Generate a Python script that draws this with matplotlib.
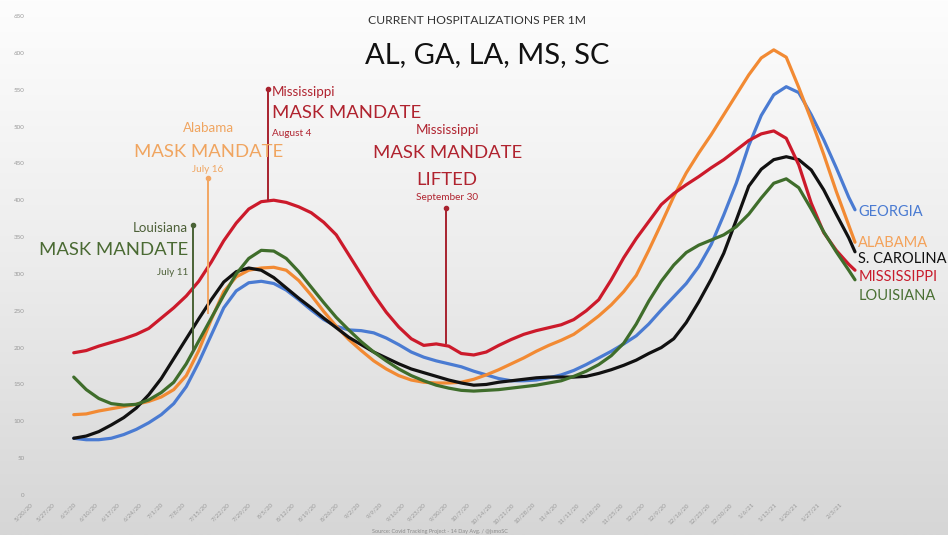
import matplotlib
matplotlib.use("Agg")
import matplotlib.pyplot as plt
import numpy as np

plt.rcParams['font.family'] = ['Lato', 'DejaVu Sans']

# days since 5/20/20, one reading every 4 days (14-day avg)
days = list(range(14, 263, 4)) + [264]

mississippi = [193, 196, 202, 207, 212, 218, 226, 240, 254, 270,
               290, 316, 345, 369, 388, 398, 400, 397, 391, 383,
               370, 353, 326, 299, 272, 248, 228, 212, 203, 205,
               202, 192, 190, 194, 203, 211, 218, 223, 227, 231,
               238, 250, 265, 292, 322, 348, 371, 394, 409, 421,
               432, 444, 455, 468, 481, 490, 494, 484, 448, 396,
               356, 332, 313, 305]
alabama = [109, 110, 114, 117, 120, 123, 127, 133, 143, 162,
           196, 238, 276, 296, 305, 308, 309, 305, 291, 271,
           249, 229, 211, 196, 182, 171, 162, 156, 153, 152,
           152, 153, 157, 163, 170, 178, 186, 195, 203, 210,
           218, 230, 243, 258, 276, 298, 332, 368, 405, 437,
           464, 489, 516, 543, 570, 593, 604, 594, 553, 509,
           462, 412, 366, 343]
georgia = [77, 75, 75, 77, 82, 89, 98, 109, 124, 147,
           180, 217, 254, 277, 288, 290, 287, 278, 265, 251,
           238, 229, 224, 223, 220, 213, 204, 194, 187, 182,
           178, 174, 168, 163, 158, 155, 155, 156, 159, 163,
           169, 177, 186, 195, 205, 216, 232, 251, 269, 287,
           310, 340, 380, 423, 474, 515, 543, 554, 546, 516,
           482, 444, 404, 387]
south_carolina = [77, 80, 86, 95, 105, 118, 136, 158, 185, 212,
                  239, 265, 289, 303, 308, 305, 295, 281, 267, 254,
                  240, 227, 214, 204, 194, 186, 178, 171, 166, 161,
                  156, 152, 149, 150, 153, 155, 157, 159, 160, 160,
                  160, 161, 165, 170, 176, 183, 192, 200, 212, 234,
                  262, 293, 328, 373, 419, 442, 455, 459, 455, 441,
                  414, 381, 349, 330]
louisiana = [160, 143, 131, 124, 122, 123, 129, 139, 153, 178,
             209, 240, 271, 300, 321, 332, 331, 321, 303, 282,
             261, 241, 224, 208, 194, 182, 171, 162, 155, 149,
             145, 142, 141, 142, 143, 145, 147, 149, 152, 155,
             161, 168, 177, 189, 206, 232, 263, 290, 312, 329,
             339, 346, 353, 364, 381, 403, 423, 429, 417, 388,
             357, 330, 305, 292]

tick_days = list(range(0, 260, 7))
tick_labels = ['5/20/20', '5/27/20', '6/3/20', '6/10/20', '6/17/20', '6/24/20',
               '7/1/20', '7/8/20', '7/15/20', '7/22/20', '7/29/20', '8/5/20',
               '8/12/20', '8/19/20', '8/26/20', '9/2/20', '9/9/20', '9/16/20',
               '9/23/20', '9/30/20', '10/7/20', '10/14/20', '10/21/20', '10/28/20',
               '11/4/20', '11/11/20', '11/18/20', '11/25/20', '12/2/20', '12/9/20',
               '12/16/20', '12/23/20', '12/30/20', '1/6/21', '1/13/21', '1/20/21',
               '1/27/21', '2/3/21']

fig = plt.figure(figsize=(9.48, 5.35), dpi=100)

# grey gradient background
bg = fig.add_axes([0, 0, 1, 1], zorder=-1)
grad = np.linspace(0, 1, 256).reshape(-1, 1)
bg.imshow(grad, aspect='auto', cmap=plt.matplotlib.colors.LinearSegmentedColormap.from_list(
    'bg', ['#fdfdfd', '#ececec', '#d6d6d6']), extent=[0, 1, 0, 1])
bg.axis('off')

ax = fig.add_axes([30 / 948, 40 / 535, 840 / 948, 480 / 535])
ax.patch.set_alpha(0)
ax.set_xlim(0, 268.8)
ax.set_ylim(0, 651.3)

series = [
    (georgia, '#4a7bd2', 'GEORGIA', '#4a7bd2'),
    (alabama, '#f28a33', 'ALABAMA', '#f4a25a'),
    (south_carolina, '#111111', 'S. CAROLINA', '#111111'),
    (mississippi, '#cc1a2b', 'MISSISSIPPI', '#c81c2c'),
    (louisiana, '#3f6d2b', 'LOUISIANA', '#4a7033'),
]
label_y = [384, 342, 320, 296, 270]
for (vals, col, name, tcol), ly in zip(series, label_y):
    ax.plot(days, vals, color=col, lw=2.3, solid_capstyle='round', solid_joinstyle='round')
    ax.text(265, ly, name, color=tcol, fontsize=10.5, va='center', ha='left', clip_on=False)

# annotations: vertical marker lines
def mandate_line(day, v0, v1, col):
    ax.plot([day, day], [v0, v1], color=col, lw=1.4)
    ax.plot([day], [v1], marker='o', ms=3, color=col)

mandate_line(52, 194, 366, '#4a6336')
mandate_line(57, 247, 430, '#f3a663')
mandate_line(76, 400, 551, '#a8222e')
mandate_line(133, 206, 389, '#a8222e')

big = 13.3
small = 9.6
tiny = 7.2
# Louisiana
ax.text(50.5, 362, 'Louisiana', color='#4d6038', fontsize=small, ha='right', va='center')
ax.text(50.5, 332, 'MASK MANDATE', color='#4a6a33', fontsize=big, ha='right', va='center')
ax.text(50.5, 302, 'July 11', color='#4d6038', fontsize=tiny, ha='right', va='center')
# Alabama
ax.text(57, 498, 'Alabama', color='#f0a560', fontsize=small, ha='center', va='center')
ax.text(57, 465, 'MASK MANDATE', color='#f0a560', fontsize=big, ha='center', va='center')
ax.text(57, 441, 'July 16', color='#f0a560', fontsize=tiny, ha='center', va='center')
# Mississippi August
ax.text(77.5, 547, 'Mississippi', color='#b0232f', fontsize=small, ha='left', va='center')
ax.text(77.5, 518, 'MASK MANDATE', color='#b0232f', fontsize=big, ha='left', va='center')
ax.text(77.5, 490, 'August 4', color='#b0232f', fontsize=tiny, ha='left', va='center')
# Mississippi September
ax.text(133.5, 495, 'Mississippi', color='#b0232f', fontsize=small, ha='center', va='center')
ax.text(133.5, 464, 'MASK MANDATE', color='#b0232f', fontsize=big, ha='center', va='center')
ax.text(133.5, 427, 'LIFTED', color='#b0232f', fontsize=big, ha='center', va='center')
ax.text(133.5, 404, 'September 30', color='#b0232f', fontsize=tiny, ha='center', va='center')

# axes styling
for s in ax.spines.values():
    s.set_visible(False)
ax.set_yticks(range(0, 651, 50))
ax.tick_params(axis='y', length=0, labelsize=4.5, labelcolor='#9a9a9a', pad=4)
ax.set_xticks(tick_days)
ax.set_xticklabels(tick_labels, rotation=45, ha='right', rotation_mode='anchor')
ax.tick_params(axis='x', length=0, labelsize=4.5, labelcolor='#9a9a9a', pad=5)

# titles
fig.text(477 / 948, 1 - 20 / 535, 'CURRENT HOSPITALIZATIONS PER 1M', ha='center', va='center',
         fontsize=8.7, color='#333333')
fig.text(487 / 948, 1 - 55 / 535, 'AL, GA, LA, MS, SC', ha='center', va='center',
         fontsize=21, color='#111111')
fig.text(440 / 948, 1 - 531 / 535, 'Source: Covid Tracking Project - 14 Day Avg. / @jsmoSC',
         ha='center', va='center', fontsize=4, color='#8a8a8a')

fig.savefig('out.png', dpi=100)
